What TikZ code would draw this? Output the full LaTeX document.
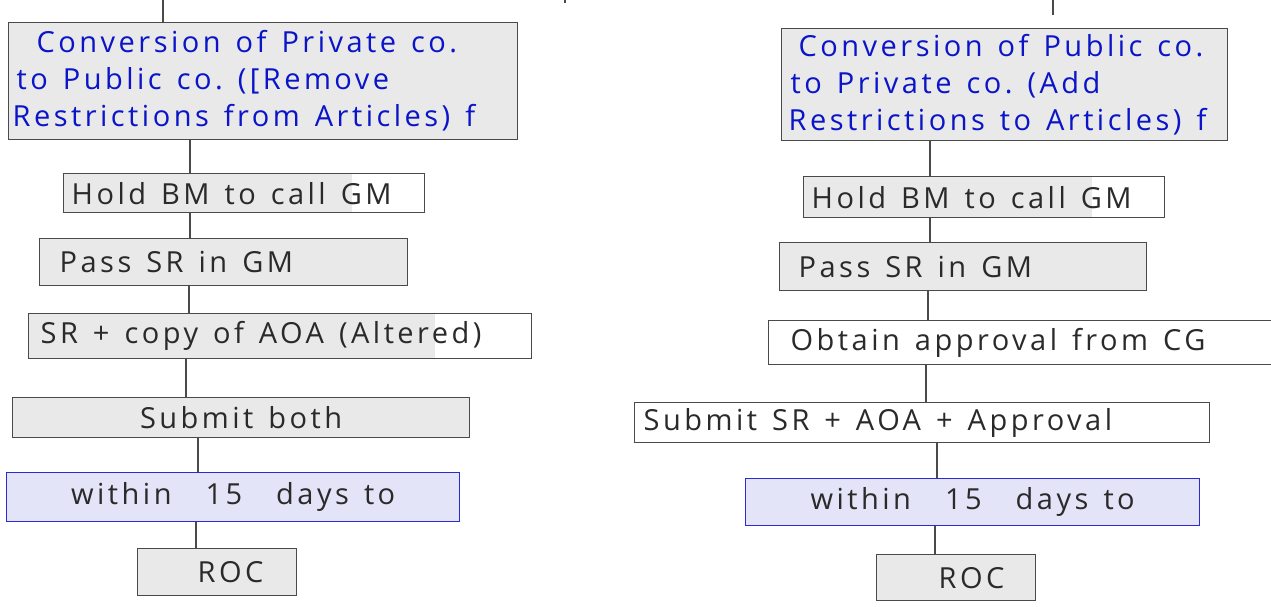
\documentclass[tikz,border=0pt]{standalone}
\usepackage{fontspec}
\setmainfont{Open Sans}[LetterSpace=12]
\definecolor{boxgray}{HTML}{E9E9E9}
\definecolor{edge}{HTML}{4A4A4A}
\definecolor{ink}{HTML}{2A2A2A}
\definecolor{bluink}{HTML}{0A14C8}
\definecolor{lav}{HTML}{E4E4F8}
\definecolor{blueedge}{HTML}{2A2AD8}
\newcommand{\hw}{\fontsize{29}{37}\selectfont}
\newcommand{\wsp}{\hskip 15pt\relax}
\newcommand{\wbig}{\hskip 34pt\relax}
\begin{document}
\begin{tikzpicture}[x=1pt,y=-1pt,
  box/.style={draw=edge, line width=1.3pt, inner xsep=0pt, inner ysep=0pt,
              anchor=north west, align=left, font=\hw, text=ink},
  gbox/.style={box, fill=boxgray},
  wbox/.style={box},
  pbox/.style={box, fill=lav, draw=blueedge},
  conn/.style={draw=edge, line width=1.2pt}]
\useasboundingbox (0,0) rectangle (1271,607);
\fill[white] (0,0) rectangle (1271,607);

% ---------------- left column ----------------
\node[gbox, text width=509pt, minimum height=117pt, text=bluink] (L1) at (8,22)
  {\hspace*{28pt}Conversion\wsp of\wsp Private\wsp co.\\\hspace*{8pt}to\wsp Public\wsp co.\wsp ([Remove\\\hspace*{4pt}Restrictions\wsp from\wsp Articles)\wsp f};
\fill[boxgray] (63,173) rectangle (352,212);
\node[wbox, text width=361pt, minimum height=39pt] (L2) at (63,173)
  {\hspace*{8pt}Hold\wsp BM\wsp to\wsp call\wsp GM};
\node[gbox, text width=368pt, minimum height=47pt] (L3) at (39,238)
  {\hspace*{20pt}Pass\wsp SR\wsp in\wsp GM};
\fill[boxgray] (28,313) rectangle (435,358);
\node[wbox, text width=503pt, minimum height=45pt] (L4) at (28,313)
  {\hspace*{12pt}SR\wsp +\wsp copy\wsp of\wsp AOA\wsp (Altered)};
\node[gbox, text width=457pt, minimum height=40pt, align=center] (L5) at (12,397)
  {Submit\wsp both};
\node[pbox, text width=453pt, minimum height=49pt, align=center] (L6) at (6,472)
  {within\wbig 15\wbig days\wsp to};
\node[gbox, text width=159pt, minimum height=47pt] (L7) at (137,548)
  {\hspace*{60pt}ROC};

\coordinate (LT) at (163,0);
\coordinate (LT2) at (163,22);
\coordinate (tick1) at (565,0);
\coordinate (tick2) at (565,3);
\draw[conn] (LT) -- (LT2);
\draw[conn] (tick1) -- (tick2);
\draw[conn] (L1.south -| 190,0) -- (L2.north -| 190,0);
\draw[conn] (L2.south -| 190,0) -- (L3.north -| 190,0);
\draw[conn] (L3.south -| 189,0) -- (L4.north -| 189,0);
\draw[conn] (L4.south -| 186,0) -- (L5.north -| 186,0);
\draw[conn] (L5.south -| 198,0) -- (L6.north -| 198,0);
\draw[conn] (L6.south -| 196,0) -- (L7.north -| 196,0);

% ---------------- right column ----------------
\node[gbox, text width=446pt, minimum height=112pt, text=bluink] (R1) at (781,28)
  {\hspace*{17pt}Conversion\wsp of\wsp Public\wsp co.\\\hspace*{9pt}to\wsp Private\wsp co.\wsp (Add\\\hspace*{7pt}Restrictions\wsp to\wsp Articles)\wsp f};
\fill[boxgray] (803,176) rectangle (1092,217);
\node[wbox, text width=361pt, minimum height=41pt] (R2) at (803,176)
  {\hspace*{8pt}Hold\wsp BM\wsp to\wsp call\wsp GM};
\node[gbox, text width=367pt, minimum height=48pt] (R3) at (779,242)
  {\hspace*{19pt}Pass\wsp SR\wsp in\wsp GM};
\node[wbox, text width=506pt, minimum height=44pt] (R4) at (768,320)
  {\hspace*{22pt}Obtain\wsp approval\wsp from\wsp CG};
\node[wbox, text width=575pt, minimum height=40pt] (R5) at (634,402)
  {\hspace*{9pt}Submit\wsp SR\wsp +\wsp AOA\wsp +\wsp Approval};
\node[pbox, text width=454pt, minimum height=47pt, align=center] (R6) at (745,478)
  {within\wbig 15\wbig days\wsp to};
\node[gbox, text width=159pt, minimum height=46pt] (R7) at (876,554)
  {\hspace*{62pt}ROC};

\coordinate (RT) at (1053,0);
\coordinate (RT2) at (1053,15);
\draw[conn] (RT) -- (RT2);
\draw[conn] (R1.south -| 930,0) -- (R2.north -| 930,0);
\draw[conn] (R2.south -| 930,0) -- (R3.north -| 930,0);
\draw[conn] (R3.south -| 928,0) -- (R4.north -| 928,0);
\draw[conn] (R4.south -| 926,0) -- (R5.north -| 926,0);
\draw[conn] (R5.south -| 937,0) -- (R6.north -| 937,0);
\draw[conn] (R6.south -| 935,0) -- (R7.north -| 935,0);
\end{tikzpicture}
\end{document}
